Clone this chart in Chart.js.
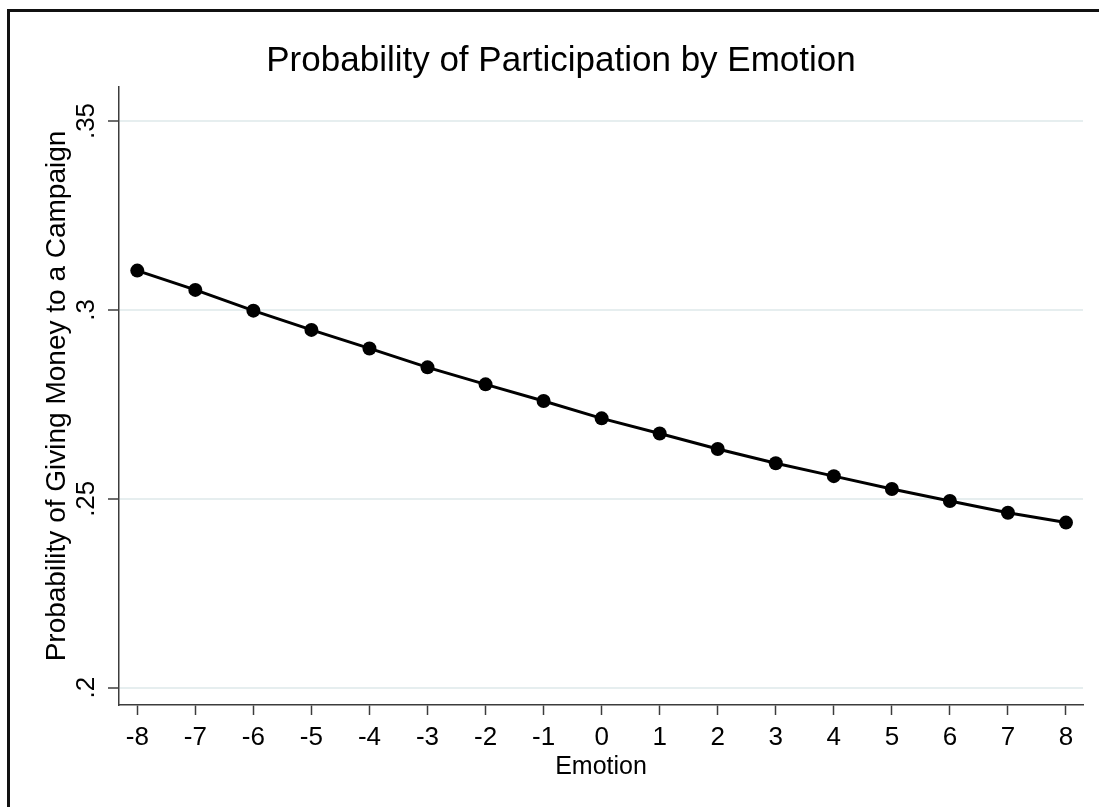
<!DOCTYPE html>
<html>
<head>
<meta charset="utf-8">
<script src="https://cdn.jsdelivr.net/npm/chart.js@4.4.1/dist/chart.umd.min.js"></script>
<style>
  html, body { margin: 0; padding: 0; background: #ffffff; overflow: hidden; }
  #chart { position: absolute; left: 0; top: 0; }
</style>
</head>
<body>
<canvas id="chart" width="1099" height="807"></canvas>
<script>
// Emotion scale (x) and predicted probability of giving money (y)
const emotionLevels = [-8, -7, -6, -5, -4, -3, -2, -1, 0, 1, 2, 3, 4, 5, 6, 7, 8];
const givingProbability = [0.3104, 0.3053, 0.2998, 0.2947, 0.2898, 0.2848, 0.2803, 0.2759,
  0.2713, 0.2673, 0.2632, 0.2594, 0.2560, 0.2526, 0.2494, 0.2463, 0.2437];

// Axis ticks
const xTickValues = [-8, -7, -6, -5, -4, -3, -2, -1, 0, 1, 2, 3, 4, 5, 6, 7, 8];
const yTickValues = [0.2, 0.25, 0.3, 0.35];
const yTickLabels = ['.2', '.25', '.3', '.35'];

const FONT = '"Liberation Sans", Arial, Helvetica, sans-serif';
const AXIS_COLOR = '#3c3c3c';
const GRID_COLOR = '#e6eeef';

// Outer graph frame: top and left edges
const outerFrame = {
  id: 'outerFrame',
  beforeDraw(chart) {
    const ctx = chart.ctx;
    ctx.save();
    ctx.fillStyle = '#111';
    ctx.fillRect(7, 9, chart.width - 7, 3);
    ctx.fillRect(7, 9, 3, chart.height - 9);
    ctx.restore();
  }
};

// Vertical tick labels on the y axis
const rotatedYTickLabels = {
  id: 'rotatedYTickLabels',
  afterDraw(chart) {
    const s = chart.scales.y;
    const ctx = chart.ctx;
    ctx.save();
    ctx.fillStyle = '#000';
    ctx.font = '26px ' + FONT;
    ctx.textAlign = 'center';
    ctx.textBaseline = 'alphabetic';
    s.ticks.forEach((t) => {
      const idx = yTickValues.findIndex(v => Math.abs(v - t.value) < 1e-9);
      if (idx < 0) return;
      const y = s.getPixelForValue(t.value);
      ctx.save();
      ctx.translate(s.right - 25, y);
      ctx.rotate(-Math.PI / 2);
      ctx.fillText(yTickLabels[idx], 0, 0);
      ctx.restore();
    });
    ctx.restore();
  }
};

new Chart(document.getElementById('chart'), {
  type: 'line',
  data: {
    datasets: [{
      data: emotionLevels.map((e, i) => ({ x: e, y: givingProbability[i] })),
      borderColor: '#000',
      backgroundColor: '#000',
      borderWidth: 3,
      pointRadius: 7,
      pointBackgroundColor: '#000',
      pointBorderWidth: 0,
      tension: 0,
      fill: false
    }]
  },
  options: {
    responsive: false,
    animation: false,
    layout: { padding: { left: 39, right: 16, top: 0, bottom: 0 } },
    plugins: {
      legend: { display: false },
      tooltip: { enabled: false },
      title: {
        display: true,
        text: 'Probability of Participation by Emotion',
        color: '#000',
        font: { family: FONT, size: 35, weight: 'normal', lineHeight: 1.2 },
        padding: { top: 40, bottom: 5 }
      }
    },
    scales: {
      x: {
        type: 'linear',
        min: -8.315,
        max: 8.293,
        afterBuildTicks: (s) => { s.ticks = xTickValues.map(v => ({ value: v })); },
        afterFit: (s) => { s.height = 102; },
        ticks: {
          color: '#000',
          font: { family: FONT, size: 26 },
          padding: 7,
          maxRotation: 0,
          callback: (v) => String(v)
        },
        grid: {
          drawOnChartArea: false,
          drawTicks: true,
          tickLength: 10,
          tickColor: AXIS_COLOR,
          tickWidth: 1.5
        },
        border: { color: AXIS_COLOR, width: 1.5 },
        title: {
          display: true,
          text: 'Emotion',
          color: '#000',
          font: { family: FONT, size: 25, lineHeight: 1.2 },
          padding: { top: 0, bottom: 25 }
        }
      },
      y: {
        type: 'linear',
        min: 0.19542,
        max: 0.359,
        afterBuildTicks: (s) => { s.ticks = yTickValues.map(v => ({ value: v })); },
        afterFit: (s) => { s.width = 80; },
        ticks: { display: false },
        grid: {
          color: GRID_COLOR,
          lineWidth: 2,
          drawTicks: true,
          tickLength: 11,
          tickColor: AXIS_COLOR,
          tickWidth: 1.5
        },
        border: { color: AXIS_COLOR, width: 1.5 },
        title: {
          display: true,
          text: 'Probability of Giving Money to a Campaign',
          color: '#000',
          font: { family: FONT, size: 28, lineHeight: 1.2 },
          padding: { top: 1.5, bottom: 0 }
        }
      }
    }
  },
  plugins: [outerFrame, rotatedYTickLabels]
});
</script>
</body>
</html>
